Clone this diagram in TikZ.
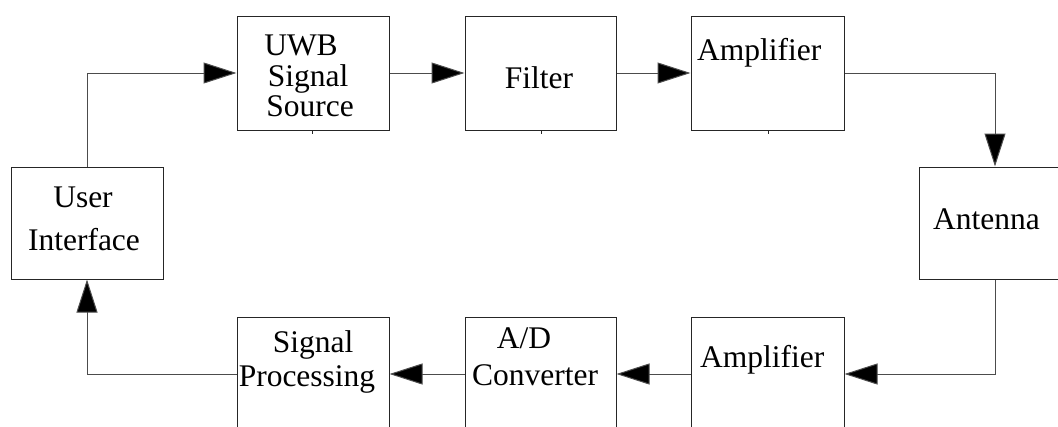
\documentclass[tikz,border=0pt]{standalone}
\usepackage{fontspec}
\setmainfont{Liberation Serif}
\usetikzlibrary{arrows.meta}

\begin{document}
\begin{tikzpicture}[x=1pt, y=-1pt,
  box/.style={draw=black!85, line width=1pt, rectangle, inner sep=0pt,
              minimum width=152pt, minimum height=114pt},
  lbl/.style={inner sep=0pt, font=\fontsize{31.5}{30}\selectfont},
  flow/.style={draw=black!70, line width=1pt,
               -{Triangle[length=33pt, width=21pt, fill=black]}},
  tick/.style={draw=black!85, line width=1pt}]

  \path[use as bounding box] (0,0) rectangle (1058,426);
  \clip (0,0) rectangle (1058,426);

  % blocks
  \node[box] (uwb)  at (313,73)   {};
  \node[box, minimum width=151pt] (filt) at (540.5,73) {};
  \node[box, minimum width=153pt] (amp1) at (767.5,73) {};
  \node[box, minimum height=112pt] (ui)  at (87,223)  {};
  \node[box, minimum height=112pt] (ant) at (995,223) {};
  \node[box] (sp)   at (313,374)  {};
  \node[box, minimum width=151pt] (ad)   at (540.5,374) {};
  \node[box, minimum width=153pt] (amp2) at (767.5,374) {};

  % labels
  \node[lbl, anchor=base] (uwb1) at (301,55)  {UWB};
  \node[lbl, anchor=base] (uwb2) at (308,86)  {Signal};
  \node[lbl, anchor=base] (uwb3) at (310,116) {Source};
  \node[lbl, anchor=base] (filtl) at (539,88) {Filter};
  \node[lbl, anchor=base west] (amp1l) at (697,60) {Amplifier};
  \node[lbl, anchor=base west] (antl) at (933,229) {Antenna};
  \node[lbl, anchor=base] (ui1) at (83,207) {User};
  \node[lbl, anchor=base] (ui2) at (84,250) {Interface};
  \node[lbl, anchor=base] (sp1) at (313,352) {Signal};
  \node[lbl, anchor=base] (sp2) at (307,386) {Processing};
  \node[lbl, anchor=base] (ad1) at (524,348) {A/D};
  \node[lbl, anchor=base] (ad2) at (535,385) {Converter};
  \node[lbl, anchor=base west] (amp2l) at (700,367) {Amplifier};

  % small marks under the upper blocks
  \draw[tick] (uwb.south -| 312,0) -- ++(0,3);
  \draw[tick] (filt.south -| 541,0) -- ++(0,3);
  \draw[tick] (amp1.south -| 768,0) -- ++(0,3);

  % signal path
  \draw[flow] (ui.north) |- (uwb.west);
  \draw[flow] (uwb.east) -- (filt.west);
  \draw[flow] (filt.east) -- (amp1.west);
  \draw[flow] (amp1.east) -| (ant.north);
  \draw[flow] (ant.south) |- (amp2.east);
  \draw[flow] (amp2.west) -- (ad.east);
  \draw[flow] (ad.west) -- (sp.east);
  \draw[flow] (sp.west) -| (ui.south);
\end{tikzpicture}
\end{document}
